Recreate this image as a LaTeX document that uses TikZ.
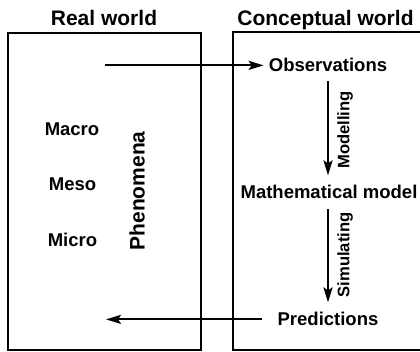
\documentclass[tikz,border=0pt]{standalone}
\usepackage{fontspec}
\setmainfont{Liberation Sans}
\usetikzlibrary{arrows.meta}
\begin{document}
\begin{tikzpicture}[x=1pt,y=-1pt,
  frame/.style={line width=2.2pt},
  arr/.style={line width=2.2pt,-{Stealth[length=15pt,width=9pt,inset=3pt]}},
  lbl/.style={font=\fontsize{18.5}{22}\selectfont\bfseries, inner sep=0pt, anchor=base},
  ttl/.style={font=\fontsize{21}{25}\selectfont\bfseries, inner sep=0pt, anchor=base},
  side/.style={font=\fontsize{16.6}{20}\selectfont\bfseries, inner sep=0pt, rotate=90}]
\useasboundingbox (0,0) rectangle (420,352);
\draw[frame] (8,33) rectangle (201,350);
\draw[frame] (421,32) -- (233,32) -- (233,350) -- (421,350);
\node[ttl] (rw) at (104,26) {Real world};
\node[ttl] (cw) at (325.5,26) {Conceptual world};
\node[lbl] (obs) at (328,72) {Observations};
\node[lbl] (mm) at (329,199) {Mathematical model};
\node[lbl] (pred) at (328,326) {Predictions};
\node[lbl] (macro) at (72,136) {Macro};
\node[lbl] (meso) at (72.5,191) {Meso};
\node[lbl] (micro) at (72.5,247) {Micro};
\node[font=\fontsize{21}{25}\selectfont\bfseries, inner sep=0pt, rotate=90] (phen) at (137,191) {Phenomena};
\node[side] (modl) at (345,130) {Modelling};
\node[side] (siml) at (345,255) {Simulating};
\coordinate (ps) at (105,0);
\coordinate (pe) at (106,0);
\draw[arr] (ps |- obs.west) -- ([xshift=-5pt]obs.west);
\draw[arr] ([xshift=-15pt]pred.west) -- (pe |- pred.west);
\coordinate (m1) at ([yshift=-9pt]obs.south);
\coordinate (m2) at (obs.south |- mm.north);
\draw[arr] (m1) -- ([yshift=10pt]m2);
\coordinate (s1) at ([yshift=-10pt]mm.south);
\coordinate (s2) at (mm.south |- pred.north);
\draw[arr] (s1 -| m1) -- ([yshift=10pt]s2 -| m1);
\end{tikzpicture}
\end{document}
